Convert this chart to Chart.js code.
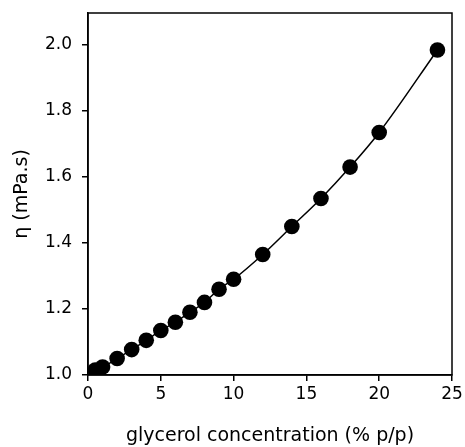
<!DOCTYPE html>
<html>
<head>
<meta charset="utf-8">
<script src="https://cdn.jsdelivr.net/npm/chart.js@4/dist/chart.umd.min.js"></script>
<style>
  html, body { margin: 0; padding: 0; background: #fff; }
  #wrap { width: 465px; height: 447px; }
</style>
</head>
<body>
<div id="wrap"><canvas id="viscChart" width="465" height="447"></canvas></div>
<script>
// glycerol concentration (% p/p) and viscosity (mPa.s)
const glycerol = [0.5, 1, 2, 3, 4, 5, 6, 7, 8, 9, 10, 12, 14, 16, 18, 20, 24]
const viscosity = [1.015, 1.024, 1.05, 1.077, 1.105, 1.135, 1.16, 1.19, 1.22, 1.26, 1.29, 1.365, 1.45, 1.535, 1.63, 1.735, 1.985]

const xTicks = [0, 5, 10, 15, 20, 25]
const yTicks = [1.0, 1.2, 1.4, 1.6, 1.8, 2.0]

const points = []
for (let i = 0; i < glycerol.length; i++) {
  points.push({x: glycerol[i], y: viscosity[i]})
}

const fontFamily = "'DejaVu Sans', 'Liberation Sans', sans-serif"

// box round the plot area
const frame = {
  id: 'frame',
  afterDraw(chart) {
    const a = chart.chartArea
    const ctx = chart.ctx
    ctx.save()
    ctx.strokeStyle = '#000'
    ctx.lineWidth = 1.5
    ctx.strokeRect(a.left, a.top, a.right - a.left, a.bottom - a.top)
    ctx.restore()
  }
}

new Chart(document.getElementById('viscChart').getContext('2d'), {
  type: 'scatter',
  data: {
    datasets: [{
      data: points,
      showLine: true,
      tension: 0.4,
      cubicInterpolationMode: 'monotone',
      borderColor: '#000',
      borderWidth: 1.5,
      backgroundColor: '#000',
      pointRadius: 7.8,
      pointHoverRadius: 7.8,
      pointBorderWidth: 0
    }]
  },
  options: {
    responsive: false,
    animation: false,
    layout: {padding: {top: 13, right: 13, left: 0, bottom: 0}},
    plugins: {legend: {display: false}, tooltip: {enabled: false}},
    scales: {
      x: {
        type: 'linear',
        min: 0,
        max: 25,
        afterBuildTicks: (s) => { s.ticks = xTicks.map(v => ({value: v})) },
        afterFit: (s) => { s.height = 72; s.paddingLeft = 0; s.paddingRight = 0 },
        grid: {drawOnChartArea: false, tickLength: 6, color: '#000', lineWidth: 1.5},
        border: {color: '#000', width: 1.5},
        ticks: {color: '#000', padding: 3, font: {family: fontFamily, size: 17}, maxRotation: 0},
        title: {display: true, text: 'glycerol concentration (% p/p)', color: '#000',
          font: {family: fontFamily, size: 19}, padding: {top: 4, bottom: 0}}
      },
      y: {
        type: 'linear',
        min: 1.0,
        max: 2.097,
        afterBuildTicks: (s) => { s.ticks = yTicks.map(v => ({value: v})) },
        afterFit: (s) => { s.width = 88; s.paddingTop = 0; s.paddingBottom = 0 },
        grid: {drawOnChartArea: false, tickLength: 6, color: '#000', lineWidth: 1.5},
        border: {color: '#000', width: 1.5},
        ticks: {color: '#000', padding: 10, font: {family: fontFamily, size: 17},
          callback: (v) => v.toFixed(1)},
        title: {display: true, text: 'η (mPa.s)', color: '#000',
          font: {family: fontFamily, size: 19}, padding: {top: 11, bottom: 0}}
      }
    }
  },
  plugins: [frame]
});
</script>
</body>
</html>
